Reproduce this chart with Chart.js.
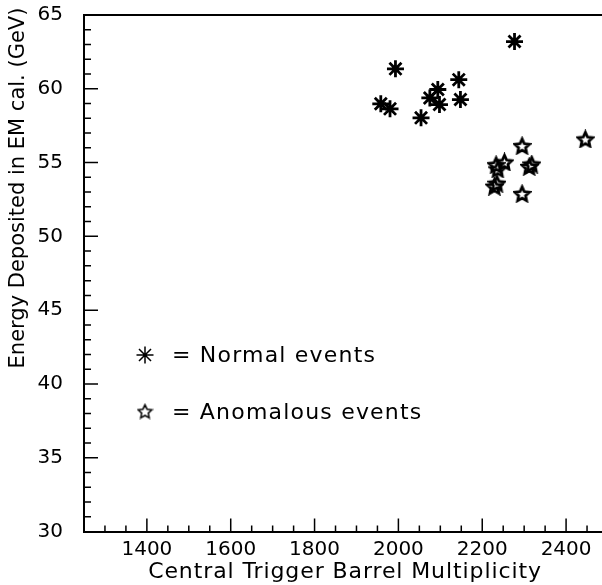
<!DOCTYPE html>
<html>
<head>
<meta charset="utf-8">
<script src="https://cdn.jsdelivr.net/npm/chart.js@4"></script>
<style>
  html, body { margin: 0; padding: 0; background: #fff; overflow: hidden; width: 602px; height: 585px; }
  canvas { display: block; }
</style>
</head>
<body>
<canvas id="container" width="612" height="585"></canvas>
<script>
let normalX = [1958, 1980, 1993, 2054, 2075, 2094, 2098, 2144, 2148, 2277];
let normalY = [58.98, 58.64, 61.35, 58.03, 59.38, 59.95, 58.93, 60.62, 59.27, 63.2];
let anomX = [2229, 2235, 2233, 2237, 2253, 2295, 2295, 2312, 2318, 2446];
let anomY = [53.4, 53.6, 54.86, 54.57, 55.04, 56.15, 52.9, 54.74, 54.9, 56.6];
let xTickLabels = [1400, 1600, 1800, 2000, 2200, 2400];
let yTickLabels = [30, 35, 40, 45, 50, 55, 60, 65];

let font = '"DejaVu Sans", sans-serif';

// outlined five point star used for the anomalous events
function makeStar(size, lw) {
  let c = document.createElement('canvas');
  c.width = size; c.height = size;
  let g = c.getContext('2d');
  let r = size / 2 - lw / 2 - 0.5, ri = r * 0.48, cx = size / 2, cy = size / 2 + 1;
  g.beginPath();
  for (let i = 0; i < 10; i++) {
    let a = -Math.PI / 2 + i * Math.PI / 5;
    let rr = i % 2 ? ri : r;
    g.lineTo(cx + rr * Math.cos(a), cy + rr * Math.sin(a));
  }
  g.closePath();
  g.lineWidth = lw;
  g.strokeStyle = '#000';
  g.stroke();
  return c;
}
let starImg = makeStar(19, 2.8);
let legendStar = makeStar(17, 1.5);

let extras = {
  id: 'extras',
  afterDraw(chart) {
    let c = chart.ctx, a = chart.chartArea;
    let xs = chart.scales.x, ys = chart.scales.y;
    c.save();
    c.strokeStyle = '#000';
    c.lineWidth = 2;
    c.beginPath();
    c.moveTo(a.left, a.top); c.lineTo(a.right, a.top);
    c.stroke();
    c.lineWidth = 1.5;
    c.beginPath();
    for (let v = 1300; v < 2500; v += 50) {
      let p = xs.getPixelForValue(v);
      let len = v % 200 === 0 ? 13 : 6;
      c.moveTo(p, a.bottom); c.lineTo(p, a.bottom - len);
    }
    for (let v = 31; v < 65; v += 1) {
      let p = ys.getPixelForValue(v);
      let len = v % 5 === 0 ? 14 : 7;
      c.moveTo(a.left, p); c.lineTo(a.left + len, p);
    }
    c.stroke();

    // axis titles
    c.fillStyle = '#000';
    c.textAlign = 'center';
    c.textBaseline = 'middle';
    c.font = '22px ' + font;
    c.letterSpacing = '0.9px';
    c.fillText('Central Trigger Barrel Multiplicity', 345, 572);
    c.letterSpacing = '0px';
    c.font = '21px ' + font;
    c.save();
    c.translate(19, 188);
    c.rotate(-Math.PI / 2);
    c.fillText('Energy Deposited in EM cal. (GeV)', 0, 0);
    c.restore();

    // legend inside the plot
    Chart.helpers.drawPoint(c, { pointStyle: 'star', radius: 8.5, borderWidth: 1.5, rotation: 0 }, 145, 355);
    c.drawImage(legendStar, 145 - 8.5, 412 - 9.5);
    c.textAlign = 'left';
    c.font = '22px ' + font;
    c.letterSpacing = '1.2px';
    c.fillText('= Normal events', 172, 356);
    c.fillText('= Anomalous events', 172, 413);
    c.restore();
  }
};

let noPad = (s) => { s.paddingTop = 0; s.paddingBottom = 0; s.paddingLeft = 0; s.paddingRight = 0; };

let ctx = document.getElementById('container').getContext('2d');
let myChart = new Chart(ctx, {
  type: 'scatter',
  data: {
    datasets: [{
      label: 'Normal events',
      data: normalX.map((x, i) => ({ x: x, y: normalY[i] })),
      pointStyle: 'star',
      pointRadius: 8.5,
      borderWidth: 2.8,
      borderColor: '#000',
      backgroundColor: '#000'
    }, {
      label: 'Anomalous events',
      data: anomX.map((x, i) => ({ x: x, y: anomY[i] })),
      pointStyle: starImg,
      pointRadius: 9,
      borderColor: '#000',
      backgroundColor: '#000'
    }]
  },
  options: {
    responsive: false,
    animation: false,
    layout: { autoPadding: false, padding: { top: 15, right: 4, left: 0, bottom: 0 } },
    plugins: { legend: { display: false }, tooltip: { enabled: false } },
    scales: {
      x: {
        type: 'linear',
        min: 1250, max: 2500,
        afterBuildTicks: (s) => { s.ticks = xTickLabels.map(v => ({ value: v })); },
        afterFit: (s) => { s.height = 53.5; noPad(s); },
        grid: { display: false, drawTicks: false },
        border: { display: true, color: '#000', width: 2 },
        ticks: { color: '#000', padding: 6, maxRotation: 0, font: { family: font, size: 20 }, callback: (v) => String(v) }
      },
      y: {
        min: 30, max: 65,
        afterBuildTicks: (s) => { s.ticks = yTickLabels.map(v => ({ value: v })); },
        afterFit: (s) => { s.width = 84; noPad(s); },
        grid: { display: false, drawTicks: false },
        border: { display: true, color: '#000', width: 2 },
        ticks: { color: '#000', padding: 21, font: { family: font, size: 20 }, callback: (v) => String(v) }
      }
    }
  },
  plugins: [extras]
});
</script>
</body>
</html>
